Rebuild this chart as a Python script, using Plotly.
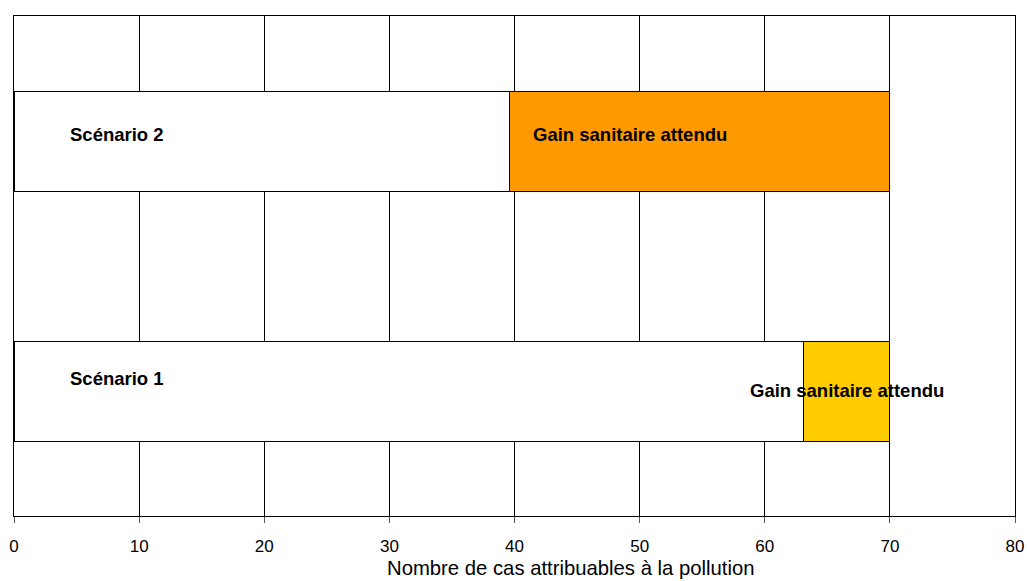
import plotly.graph_objects as go

# Scenario data: remaining attributable cases and expected health gain
scenarios = ["Scénario 1", "Scénario 2"]
remaining_cases = [63.1, 39.6]
health_gain = [6.9, 30.4]
gain_colors = ["#FFCC00", "#FF9900"]
gain_label = "Gain sanitaire attendu"
x_ticks = [0, 10, 20, 30, 40, 50, 60, 70, 80]
x_title = "Nombre de cas attribuables à la pollution"

FONT = "Liberation Sans, Arial, sans-serif"

fig = go.Figure()
fig.add_trace(go.Bar(
    y=scenarios, x=remaining_cases, orientation="h", width=0.4,
    marker=dict(color="white", line=dict(color="black", width=1)),
    hoverinfo="skip", showlegend=False,
))
fig.add_trace(go.Bar(
    y=scenarios, x=health_gain, orientation="h", width=0.4,
    marker=dict(color=gain_colors, line=dict(color="black", width=1)),
    hoverinfo="skip", showlegend=False,
))

# Text labels placed relative to the bar segments
label_font = dict(family=FONT, size=18.5, color="black")
name_shift = [13, 7]
gain_shift = [1, 7]
for i, name in enumerate(scenarios):
    fig.add_annotation(x=4.3, y=name, text=f"<b>{name}</b>", showarrow=False,
                       xanchor="left", yshift=name_shift[i], font=label_font)
    if health_gain[i] < 15:
        gx, anchor = remaining_cases[i] + health_gain[i] / 2, "center"
    else:
        gx, anchor = remaining_cases[i] + 1.7, "left"
    fig.add_annotation(x=gx, y=name, text=f"<b>{gain_label}</b>", showarrow=False,
                       xanchor=anchor, yshift=gain_shift[i], font=label_font)

# Axis title, set slightly right of the plot centre, kept clear of the bottom edge
fig.add_annotation(x=0.5565, y=0, xref="paper", yref="paper", yshift=-65,
                   text=x_title, showarrow=False, xanchor="center", yanchor="bottom",
                   font=dict(family=FONT, size=20.3, color="black"))

fig.update_layout(
    barmode="stack",
    width=1027, height=581,
    margin=dict(l=14, r=12, t=16, b=65, autoexpand=False),
    paper_bgcolor="white", plot_bgcolor="white",
    font=dict(family=FONT, color="black"),
    xaxis=dict(
        range=[0, 80], tickvals=x_ticks, ticktext=[str(v) for v in x_ticks],
        automargin=False,
        showgrid=True, gridcolor="black", gridwidth=1,
        showline=True, linecolor="black", linewidth=1, mirror=True,
        ticks="outside", ticklen=6, tickcolor="#555",
        tickfont=dict(size=17), ticklabelstandoff=9, zeroline=False,
    ),
    yaxis=dict(
        categoryorder="array", categoryarray=scenarios, range=[-0.5, 1.5],
        automargin=False,
        showticklabels=False, showgrid=False, zeroline=False,
        showline=True, linecolor="black", linewidth=1, mirror=True, ticks="",
    ),
)

fig.write_html("out.html")
